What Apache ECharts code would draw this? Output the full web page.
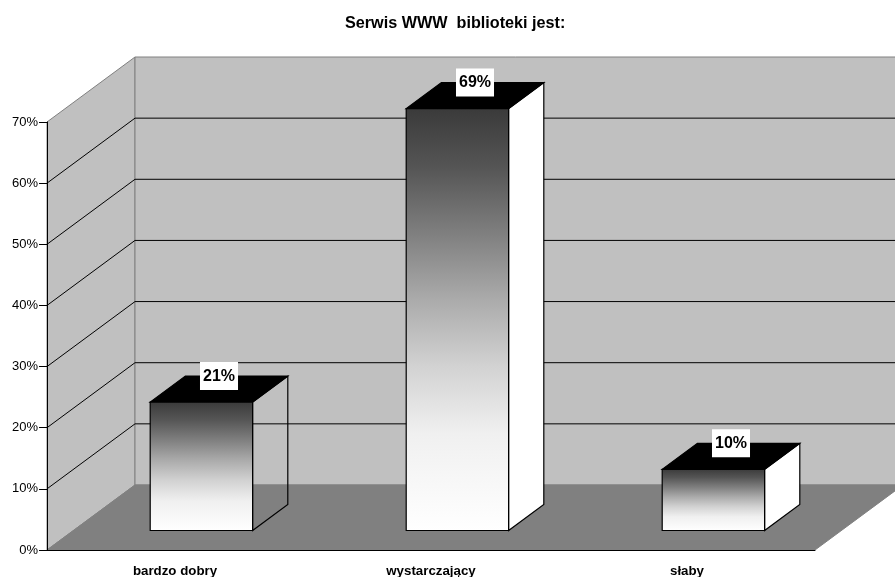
<!DOCTYPE html>
<html><head><meta charset="utf-8">
<style>html,body{margin:0;padding:0;background:#fff}#c{width:895px;height:577px}</style>
<script src="https://cdn.jsdelivr.net/npm/echarts@6/dist/echarts.min.js"></script>
</head><body><div id="c"></div>
<script>
const categories = ['bardzo dobry', 'wystarczający', 'słaby'];
const percentages = [21, 69, 10];
const yTicks = [0, 10, 20, 30, 40, 50, 60, 70];
const titleText = 'Serwis WWW  biblioteki jest:';

const DX = 88, DY = -65;       // depth of the floor
const GAP = 0.3, DEPTH = 0.4;  // fractions of the depth
const BAR_W = 0.4;             // fraction of a category band
const FONT = '"Liberation Sans", Arial, sans-serif';
const sideFill = ['transparent', '#ffffff', '#ffffff'];

function poly(pts, style, z2) {
  return { type: 'polygon', shape: { points: pts }, style, z2: z2 || 0 };
}
function seg(a, b, stroke, w, z2) {
  return { type: 'line', shape: { x1: a[0], y1: a[1], x2: b[0], y2: b[1] },
    style: { stroke, lineWidth: w || 1 }, z2: z2 || 0 };
}
const off = (p, f) => [p[0] + DX * (f === undefined ? 1 : f), p[1] + DY * (f === undefined ? 1 : f)];

function renderRoom(params, api) {
  const band = api.size([1, 0])[0];
  const xL = api.coord([0, 0])[0] - band / 2;
  const xR = api.coord([categories.length - 1, 0])[0] + band / 2;
  const yAt = v => api.coord([0, v])[1];
  const top = yTicks[yTicks.length - 1];
  const F0 = [xL, yAt(0)], F1 = [xR, yAt(0)], T0 = [xL, yAt(top)], T1 = [xR, yAt(top)];
  const grey = '#808080';
  const kids = [
    poly([F0, T0, off(T0), off(F0)], { fill: '#c0c0c0', stroke: grey, lineWidth: 1 }),
    poly([off(F0), off(T0), off(T1), off(F1)], { fill: '#c0c0c0', stroke: grey, lineWidth: 1 }),
    poly([F0, F1, off(F1), off(F0)], { fill: '#808080', stroke: grey, lineWidth: 1 })
  ];
  yTicks.slice(1, -1).forEach(v => {
    const a = [xL, yAt(v)];
    kids.push(seg(a, off(a), '#000', 1, 1));
    kids.push(seg(off(a), off([xR, yAt(v)]), '#000', 1, 1));
  });
  return { type: 'group', children: kids };
}

function renderBar(params, api) {
  const i = api.value(0), v = api.value(1);
  const band = api.size([1, 0])[0], w = band * BAR_W;
  const c = api.coord([i, 0]);
  const b0 = off([c[0] - w / 2, c[1]], GAP);
  const b1 = off([c[0] + w / 2, c[1]], GAP);
  const h = c[1] - api.coord([i, v])[1];
  const t0 = [b0[0], b0[1] - h], t1 = [b1[0], b1[1] - h];
  const line = { stroke: '#000', lineWidth: 1.2 };
  const grad = new echarts.graphic.LinearGradient(0, 0, 0, 1, [
    { offset: 0, color: '#3a3a3a' },
    { offset: 0.14, color: '#555555' },
    { offset: 0.30, color: '#808080' },
    { offset: 0.45, color: '#aaaaaa' },
    { offset: 0.61, color: '#d2d2d2' },
    { offset: 0.77, color: '#f0f0f0' },
    { offset: 1, color: '#ffffff' }
  ]);
  const back = off(t0, DEPTH), backR = off(t1, DEPTH);
  return { type: 'group', children: [
    poly([b1, t1, backR, off(b1, DEPTH)], { fill: sideFill[i], ...line }, 1),
    poly([t0, t1, backR, back], { fill: '#000', ...line }, 2),
    poly([b0, t0, t1, b1], { fill: grad, ...line }, 3),
    { type: 'text', z2: 5,
      x: (t0[0] + t1[0]) / 2 + DX * DEPTH / 2, y: back[1],
      style: { text: v + '%', fill: '#000', font: 'bold 16px ' + FONT,
        align: 'center', verticalAlign: 'middle',
        backgroundColor: '#fff', padding: [6, 3, 6, 3] } }
  ] };
}

const chart = echarts.init(document.getElementById('c'), null, { renderer: 'canvas' });
chart.setOption({
  animation: false,
  backgroundColor: '#fff',
  title: { text: titleText, left: 340, top: 11,
    textStyle: { fontFamily: FONT, fontWeight: 'bold', fontSize: 16.2, color: '#000' } },
  grid: { left: 47, right: 80, top: 122, bottom: 27, outerBoundsMode: 'none' },
  xAxis: { type: 'category', data: categories, z: 10,
    axisLine: { lineStyle: { color: '#000', width: 1 } },
    axisTick: { length: 8, lineStyle: { color: '#000' } },
    axisLabel: { interval: 0, margin: 15, color: '#000', fontFamily: FONT, fontWeight: 'bold', fontSize: 13.3 },
    splitLine: { show: false } },
  yAxis: { type: 'value', min: 0, max: 70, interval: 10, z: 10,
    axisLine: { show: true, lineStyle: { color: '#000', width: 1 } },
    axisTick: { show: true, length: 8, lineStyle: { color: '#000' } },
    axisLabel: { margin: 9, color: '#000', fontFamily: FONT, fontSize: 13, formatter: '{value}%' },
    splitLine: { show: false } },
  series: [
    { type: 'custom', z: 1, silent: true, renderItem: renderRoom, data: [[0, 0]] },
    { type: 'custom', z: 2, silent: true, renderItem: renderBar,
      encode: { x: 0, y: 1 },
      data: percentages.map((v, i) => [i, v]) }
  ]
});
</script></body></html>
